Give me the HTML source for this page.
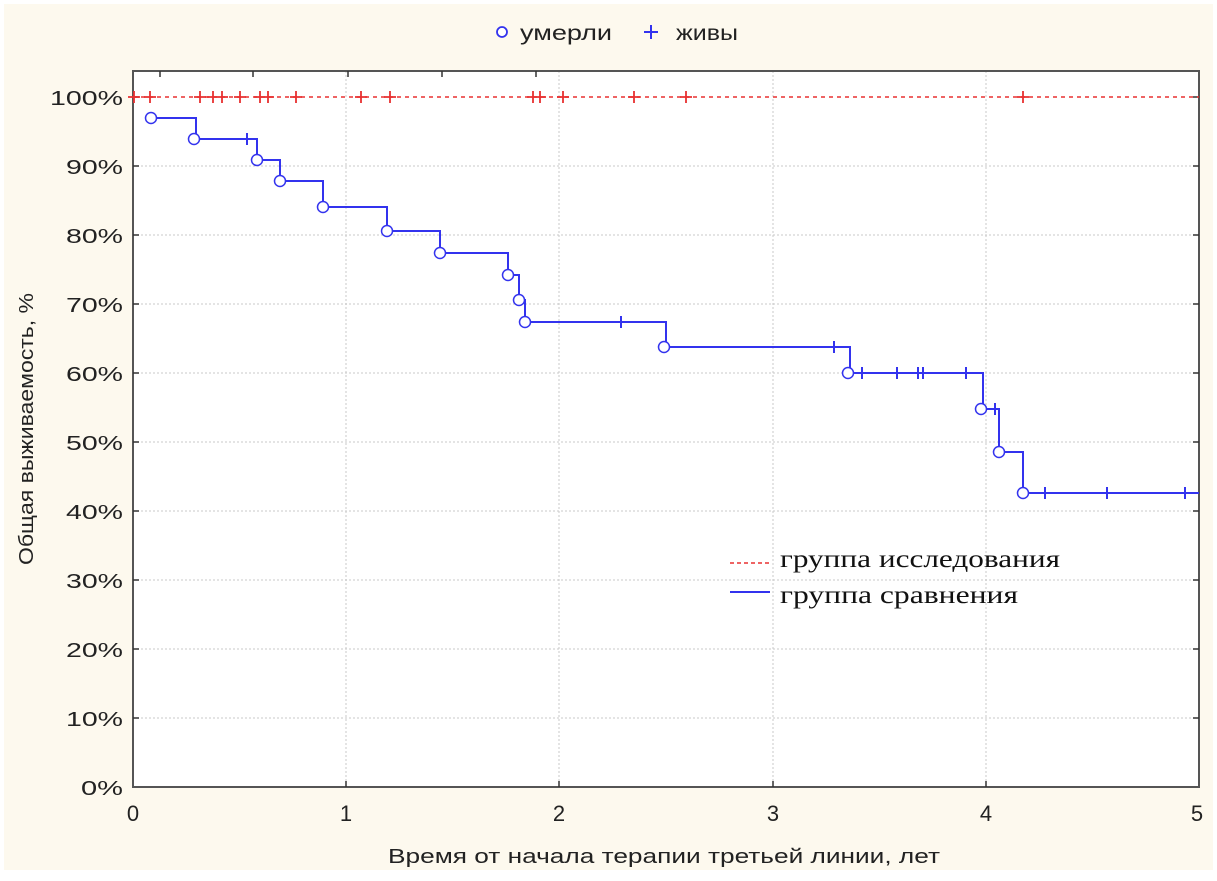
<!DOCTYPE html>
<html><head><meta charset="utf-8"><style>
body{margin:0;background:#fff}
svg{display:block}
</style></head><body>
<svg width="1217" height="881" xmlns="http://www.w3.org/2000/svg" font-family="Liberation Sans, sans-serif">
<rect x="0" y="0" width="1217" height="881" fill="#fff"/>
<rect x="4" y="4" width="1209" height="866" fill="#fdf9ee"/>
<rect x="133" y="71" width="1066" height="716" fill="#fff"/>
<g stroke="#c8c8c8" stroke-width="1" stroke-dasharray="2,2">
<line x1="133" y1="166" x2="1199" y2="166"/><line x1="133" y1="235" x2="1199" y2="235"/>
<line x1="133" y1="304" x2="1199" y2="304"/><line x1="133" y1="373" x2="1199" y2="373"/>
<line x1="133" y1="442" x2="1199" y2="442"/><line x1="133" y1="511" x2="1199" y2="511"/>
<line x1="133" y1="580" x2="1199" y2="580"/><line x1="133" y1="649" x2="1199" y2="649"/>
<line x1="133" y1="718" x2="1199" y2="718"/>
<line x1="346" y1="71" x2="346" y2="787"/><line x1="559" y1="71" x2="559" y2="787"/>
<line x1="773" y1="71" x2="773" y2="787"/><line x1="986" y1="71" x2="986" y2="787"/>
</g>
<rect x="133" y="71" width="1066" height="716" fill="none" stroke="#555" stroke-width="2"/>
<g stroke="#333" stroke-width="1.5">
<line x1="133" y1="97" x2="139" y2="97"/><line x1="133" y1="166" x2="139" y2="166"/><line x1="133" y1="235" x2="139" y2="235"/><line x1="133" y1="304" x2="139" y2="304"/><line x1="133" y1="373" x2="139" y2="373"/><line x1="133" y1="442" x2="139" y2="442"/><line x1="133" y1="511" x2="139" y2="511"/><line x1="133" y1="580" x2="139" y2="580"/><line x1="133" y1="649" x2="139" y2="649"/><line x1="133" y1="718" x2="139" y2="718"/>
<line x1="1193" y1="97" x2="1199" y2="97"/><line x1="1193" y1="166" x2="1199" y2="166"/><line x1="1193" y1="235" x2="1199" y2="235"/><line x1="1193" y1="304" x2="1199" y2="304"/><line x1="1193" y1="373" x2="1199" y2="373"/><line x1="1193" y1="442" x2="1199" y2="442"/><line x1="1193" y1="511" x2="1199" y2="511"/><line x1="1193" y1="580" x2="1199" y2="580"/><line x1="1193" y1="649" x2="1199" y2="649"/><line x1="1193" y1="718" x2="1199" y2="718"/>
<line x1="346" y1="781" x2="346" y2="787"/><line x1="559" y1="781" x2="559" y2="787"/><line x1="773" y1="781" x2="773" y2="787"/><line x1="986" y1="781" x2="986" y2="787"/>
<line x1="160" y1="71" x2="160" y2="77"/><line x1="253" y1="71" x2="253" y2="77"/><line x1="348" y1="71" x2="348" y2="77"/><line x1="442" y1="71" x2="442" y2="77"/><line x1="536" y1="71" x2="536" y2="77"/>
</g>
<g font-size="20" fill="#222">
<text x="50" y="105" textLength="73" lengthAdjust="spacingAndGlyphs">100%</text>
<text x="66" y="174" textLength="57" lengthAdjust="spacingAndGlyphs">90%</text>
<text x="66" y="243" textLength="57" lengthAdjust="spacingAndGlyphs">80%</text>
<text x="66" y="312" textLength="57" lengthAdjust="spacingAndGlyphs">70%</text>
<text x="66" y="381" textLength="57" lengthAdjust="spacingAndGlyphs">60%</text>
<text x="66" y="450" textLength="57" lengthAdjust="spacingAndGlyphs">50%</text>
<text x="66" y="519" textLength="57" lengthAdjust="spacingAndGlyphs">40%</text>
<text x="66" y="588" textLength="57" lengthAdjust="spacingAndGlyphs">30%</text>
<text x="66" y="657" textLength="57" lengthAdjust="spacingAndGlyphs">20%</text>
<text x="66" y="726" textLength="57" lengthAdjust="spacingAndGlyphs">10%</text>
<text x="81" y="795" textLength="42" lengthAdjust="spacingAndGlyphs">0%</text>
</g>
<g font-size="22" fill="#222" text-anchor="middle">
<text x="133" y="821">0</text><text x="346" y="821">1</text><text x="559" y="821">2</text><text x="773" y="821">3</text><text x="986" y="821">4</text><text x="1197" y="821">5</text>
</g>
<text x="388" y="863" font-size="20" fill="#222" textLength="552" lengthAdjust="spacingAndGlyphs">Время от начала терапии третьей линии, лет</text>
<text transform="translate(33,565) rotate(-90)" font-size="20" fill="#222" textLength="272" lengthAdjust="spacingAndGlyphs">Общая выживаемость, %</text>
<line x1="133" y1="97" x2="1199" y2="97" stroke="#e83030" stroke-width="1.5" stroke-dasharray="4,4"/>
<g stroke="#e83030" stroke-width="1.8">
<path d="M134 91v12M128 97h12 M150 91v12M144 97h12 M200 91v12M194 97h12 M213 91v12M207 97h12 M222 91v12M216 97h12 M240 91v12M234 97h12 M260 91v12M254 97h12 M268 91v12M262 97h12 M296 91v12M290 97h12 M361 91v12M355 97h12 M390 91v12M384 97h12 M533 91v12M527 97h12 M540 91v12M534 97h12 M563 91v12M557 97h12 M634 91v12M628 97h12 M686 91v12M680 97h12 M1023 91v12M1017 97h12"/>
</g>
<path d="M151 118H196V139H257V160H280V181H323V207H387V231H440V253H508V275H519V300H525V322H666V347H850V373H983V409H999V452H1023V493H1199" fill="none" stroke="#3333ee" stroke-width="2"/>
<g stroke="#3333ee" stroke-width="2">
<path d="M247 133v12M621 316v12M834 341v12M862 367v12M897 367v12M918 367v12M923 367v12M966 367v12M995 403v12M1045 487v12M1107 487v12M1185 487v12"/>
</g>
<g fill="#fff" stroke="#3333ee" stroke-width="1.5">
<circle cx="151" cy="118" r="5.5"/><circle cx="194" cy="139" r="5.5"/><circle cx="257" cy="160" r="5.5"/><circle cx="280" cy="181" r="5.5"/><circle cx="323" cy="207" r="5.5"/><circle cx="387" cy="231" r="5.5"/><circle cx="440" cy="253" r="5.5"/><circle cx="508" cy="275" r="5.5"/><circle cx="519" cy="300" r="5.5"/><circle cx="525" cy="322" r="5.5"/><circle cx="664" cy="347" r="5.5"/><circle cx="848" cy="373" r="5.5"/><circle cx="981" cy="409" r="5.5"/><circle cx="999" cy="452" r="5.5"/><circle cx="1023" cy="493" r="5.5"/>
</g>
<circle cx="502" cy="32" r="5" fill="#fff" stroke="#3333ee" stroke-width="1.8"/>
<text x="520" y="40" font-size="21" fill="#222" textLength="92" lengthAdjust="spacingAndGlyphs">умерли</text>
<path d="M651 25v14M644 32h14" stroke="#3333ee" stroke-width="2"/>
<text x="676" y="40" font-size="21" fill="#222" textLength="62" lengthAdjust="spacingAndGlyphs">живы</text>
<line x1="730" y1="563" x2="770" y2="563" stroke="#e83030" stroke-width="1.5" stroke-dasharray="4,3"/>
<line x1="730" y1="592" x2="770" y2="592" stroke="#3333ee" stroke-width="2"/>
<g font-family="Liberation Serif, serif" font-size="25" fill="#111">
<text x="780" y="567" textLength="280" lengthAdjust="spacingAndGlyphs">группа исследования</text>
<text x="780" y="603" textLength="238" lengthAdjust="spacingAndGlyphs">группа сравнения</text>
</g>
</svg>
</body></html>
